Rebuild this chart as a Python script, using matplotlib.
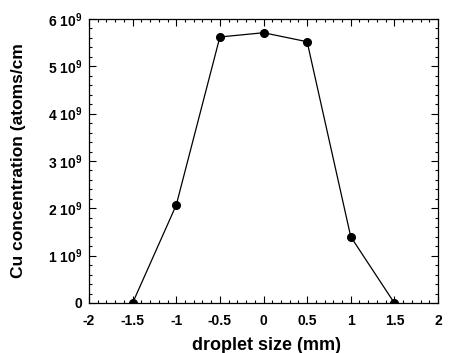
import matplotlib
matplotlib.use("Agg")
import matplotlib.pyplot as plt
from matplotlib.ticker import MultipleLocator, FuncFormatter

plt.rcParams["font.family"] = "Liberation Sans"
plt.rcParams["font.weight"] = "bold"
plt.rcParams["mathtext.fontset"] = "custom"
plt.rcParams["mathtext.bf"] = "Liberation Sans:bold"
plt.rcParams["mathtext.rm"] = "Liberation Sans:bold"
plt.rcParams["mathtext.default"] = "bf"

# droplet size (mm) vs Cu concentration
size_mm = [-1.5, -1.0, -0.5, 0.0, 0.5, 1.0, 1.5]
cu_conc = [0.0, 2.07e9, 5.62e9, 5.71e9, 5.52e9, 1.40e9, 0.0]

fig = plt.figure(figsize=(4.5, 3.53), dpi=100)
ax = fig.add_axes([89 / 450, 50 / 353, 349 / 450, 284 / 353])

ax.plot(size_mm, cu_conc, color="black", linewidth=0.9, marker="o", markersize=5.5)

ax.set_xlim(-2, 2)
ax.set_ylim(0, 6e9)
ax.xaxis.set_major_locator(MultipleLocator(0.5))
ax.xaxis.set_minor_locator(MultipleLocator(0.1))
ax.yaxis.set_major_locator(MultipleLocator(1e9))
ax.yaxis.set_minor_locator(MultipleLocator(0.2e9))


def xfmt(v, pos):
    return "%g" % round(v, 2)


def yfmt(v, pos):
    n = int(round(v / 1e9))
    if n == 0:
        return "0"
    return r"$\mathbf{%d\;10^{9}}$" % n


ax.xaxis.set_major_formatter(FuncFormatter(xfmt))
ax.yaxis.set_major_formatter(FuncFormatter(yfmt))

ax.tick_params(which="both", direction="in", top=True, right=True, width=0.8)
ax.tick_params(which="major", length=5, labelsize=10, pad=5)
ax.tick_params(axis="x", which="major", pad=8)
ax.tick_params(which="minor", length=2.5)
for lab in ax.get_xticklabels() + ax.get_yticklabels():
    lab.set_fontweight("bold")
for s in ax.spines.values():
    s.set_linewidth(0.9)

ax.set_xlabel("droplet size (mm)", fontsize=13, fontweight="bold")
ax.set_ylabel("Cu concentration (atoms/cm", fontsize=12.5, fontweight="bold")
ax.xaxis.set_label_coords(0.51, -0.12)
ax.yaxis.set_label_coords(-0.18, 0.5)

fig.savefig("out.png", dpi=100)
